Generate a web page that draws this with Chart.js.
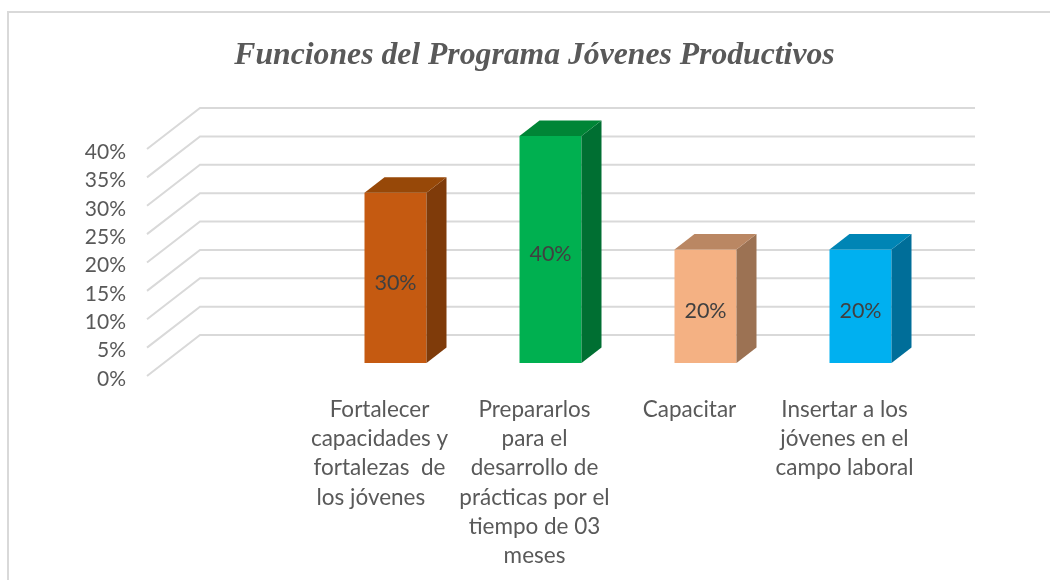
<!DOCTYPE html>
<html lang="es">
<head>
<meta charset="utf-8">
<title>Funciones del Programa Jóvenes Productivos</title>
<style>html,body{margin:0;padding:0;background:#fff}canvas{display:block}</style>
<script src="https://cdn.jsdelivr.net/npm/chart.js@4"></script>
</head>
<body>
<canvas id="c" width="1050" height="580"></canvas>
<script>
const titleText = "Funciones del Programa Jóvenes Productivos";
const categories = [
  "",
  ["Fortalecer", "capacidades y", "fortalezas  de", "los jóvenes   "],
  ["Prepararlos", "para el", "desarrollo de", "prácticas por el", "tiempo de 03", "meses"],
  ["Capacitar"],
  ["Insertar a los", "jóvenes en el", "campo laboral"]
];
const values = [null, 30, 40, 20, 20];
const frontColors = ["#ffffff", "#C55A11", "#00B050", "#F4B183", "#00B0F0"];
const sideColors  = ["#ffffff", "#7F3B0A", "#006F32", "#9C7253", "#006E99"];
const topColors   = ["#ffffff", "#974808", "#008536", "#BA8763", "#0085B5"];
const yMax = 40, yStep = 5;

const wall = {dx: 53, dy: -41};
const barShift = {dx: 16, dy: -13};
const barDepth = {dx: 20, dy: -15.5};
const gridColor = "#d9d9d9";

const plugin3d = {
  id: "plugin3d",
  beforeDraw(chart) {
    const {ctx, scales: {y}, chartArea: a} = chart;
    ctx.save();
    ctx.strokeStyle = gridColor;
    ctx.lineWidth = 2;
    ctx.beginPath();
    ctx.moveTo(8, 580); ctx.lineTo(8, 12); ctx.lineTo(1050, 12);
    ctx.stroke();
    y.ticks.forEach((t, i) => {
      const py = y.getPixelForTick(i);
      ctx.beginPath();
      ctx.moveTo(a.left, py);
      ctx.lineTo(a.left + wall.dx, py + wall.dy);
      ctx.lineTo(a.right + wall.dx, py + wall.dy);
      ctx.stroke();
    });
    ctx.restore();
  },
  beforeDatasetsDraw(chart) {
    chart.ctx.save();
    chart.ctx.translate(barShift.dx, barShift.dy);
  },
  afterDatasetsDraw(chart) {
    const {ctx} = chart;
    const els = chart.getDatasetMeta(0).data;
    els.forEach((el, i) => {
      if (values[i] == null) return;
      const l = el.x - el.width / 2, r = el.x + el.width / 2;
      const t = el.y, b = el.base;
      ctx.fillStyle = sideColors[i];
      ctx.beginPath();
      ctx.moveTo(r, t); ctx.lineTo(r + barDepth.dx, t + barDepth.dy);
      ctx.lineTo(r + barDepth.dx, b + barDepth.dy); ctx.lineTo(r, b);
      ctx.closePath(); ctx.fill();
      ctx.fillStyle = topColors[i];
      ctx.beginPath();
      ctx.moveTo(l, t); ctx.lineTo(l + barDepth.dx, t + barDepth.dy);
      ctx.lineTo(r + barDepth.dx, t + barDepth.dy); ctx.lineTo(r, t);
      ctx.closePath(); ctx.fill();
      ctx.fillStyle = "#404040";
      ctx.font = "21.5px Lato";
      ctx.textAlign = "center";
      ctx.textBaseline = "middle";
      ctx.fillText(values[i] + "%", el.x, (t + b) / 2 + 5);
    });
    ctx.restore();
  }
};

new Chart(document.getElementById("c"), {
  type: "bar",
  data: {
    labels: categories,
    datasets: [{
      data: values,
      backgroundColor: frontColors,
      barPercentage: 0.4,
      categoryPercentage: 1
    }]
  },
  plugins: [plugin3d],
  options: {
    responsive: false,
    animation: false,
    layout: {padding: {left: 0, right: 128, top: 0, bottom: 0}},
    plugins: {
      legend: {display: false},
      tooltip: {enabled: false},
      title: {
        display: true,
        text: titleText,
        fullSize: false,
        color: "#595959",
        font: {family: "'Liberation Serif'", size: 31.7, style: "italic", weight: "bold", lineHeight: 1.2},
        padding: {top: 37, bottom: 74}
      }
    },
    scales: {
      x: {
        grid: {display: false, drawTicks: false},
        border: {display: false},
        afterFit(s) { s.height = 204; },
        ticks: {
          autoSkip: false, maxRotation: 0, minRotation: 0, padding: 19,
          color: "#595959",
          font: {family: "Lato", size: 22.5, lineHeight: 1.3}
        }
      },
      y: {
        min: 0, max: yMax,
        grid: {display: false, drawTicks: false},
        border: {display: false},
        afterFit(s) { s.width = 147; },
        ticks: {
          stepSize: yStep, padding: 21, labelOffset: 3,
          color: "#595959",
          font: {family: "Lato", size: 21},
          callback: v => v + "%"
        }
      }
    }
  }
});
</script>
</body>
</html>
